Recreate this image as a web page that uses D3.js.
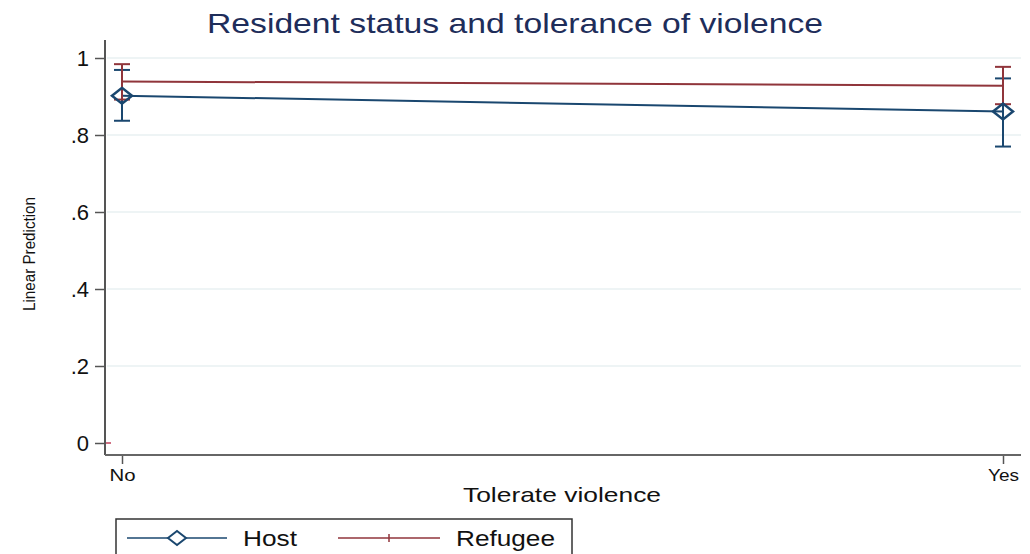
<!DOCTYPE html>
<html><head><meta charset="utf-8">
<script src="https://cdn.jsdelivr.net/npm/d3@7"></script>
<style>body{margin:0;background:#fff}svg{display:block;font-family:"Liberation Sans",Arial,sans-serif}</style>
</head><body><svg id="c" width="1030" height="554"></svg>
<script>
const categories = ["No", "Yes"];
const seriesNames = ["Host", "Refugee"];
const hostMean = [0.902, 0.861];
const hostLo = [0.837, 0.770];
const hostHi = [0.969, 0.947];
const refMean = [0.939, 0.928];
const refLo = [0.892, 0.880];
const refHi = [0.984, 0.977];
const yTicks = [0, 0.2, 0.4, 0.6, 0.8, 1];
const yTickLabels = ["0", ".2", ".4", ".6", ".8", "1"];

const svg = d3.select("#c");
const colors = {Host: "#1a476f", Refugee: "#90353b"};
const x = d3.scalePoint().domain(categories).range([122, 1003]);
const y = d3.scaleLinear().domain([0, 1]).range([443, 58]);
const plotL = 105, plotR = 1021, plotB = 455;

// gridlines
svg.append("g").selectAll("line").data(yTicks.filter(d => d > 0)).join("line")
  .attr("x1", plotL + 2).attr("x2", plotR).attr("y1", d => y(d)).attr("y2", d => y(d))
  .attr("stroke", "#e8f1f2").attr("stroke-width", 1.5);

// y axis
const ya = svg.append("g").attr("transform", `translate(${plotL},0)`)
  .call(d3.axisLeft(y).tickValues(yTicks).tickFormat((d, i) => yTickLabels[i]).tickSize(10).tickPadding(6).tickSizeOuter(0));
ya.select(".domain").remove();
ya.selectAll("line").attr("stroke", "#555").attr("stroke-width", 1.5);
ya.selectAll("text").attr("font-size", 22).attr("fill", "#111").attr("font-family", "Liberation Sans, Arial, sans-serif");
svg.append("line").attr("x1", plotL).attr("x2", plotL).attr("y1", 40).attr("y2", plotB).attr("stroke", "#555").attr("stroke-width", 2);

// x axis
const xa = svg.append("g").attr("transform", `translate(0,${plotB})`)
  .call(d3.axisBottom(x).tickSize(9).tickPadding(6).tickSizeOuter(0));
xa.select(".domain").remove();
xa.selectAll("line").attr("stroke", "#555").attr("stroke-width", 1.5);
xa.selectAll("text").attr("font-size", 16).attr("fill", "#111").attr("font-family", "Liberation Sans, Arial, sans-serif")
  .attr("textLength", d => d === "No" ? 26 : 31).attr("lengthAdjust", "spacingAndGlyphs");
svg.append("line").attr("x1", plotL).attr("x2", plotR).attr("y1", plotB).attr("y2", plotB).attr("stroke", "#666").attr("stroke-width", 2);

// small red mark at 0
svg.append("line").attr("x1", plotL + 1).attr("x2", plotL + 6).attr("y1", y(0)).attr("y2", y(0)).attr("stroke", "#c0405a").attr("stroke-width", 1.5);

// titles
svg.append("text").attr("x", 515).attr("y", 33).attr("text-anchor", "middle")
  .attr("font-size", 28).attr("fill", "#1e2d5a")
  .attr("textLength", 616).attr("lengthAdjust", "spacingAndGlyphs")
  .text("Resident status and tolerance of violence");
svg.append("text").attr("x", 562).attr("y", 502).attr("text-anchor", "middle")
  .attr("font-size", 21).attr("fill", "#111")
  .attr("textLength", 198).attr("lengthAdjust", "spacingAndGlyphs").text("Tolerate violence");
svg.append("text").attr("transform", "translate(35,254) rotate(-90)").attr("text-anchor", "middle")
  .attr("font-size", 16).attr("fill", "#111")
  .attr("textLength", 114).attr("lengthAdjust", "spacingAndGlyphs").text("Linear Prediction");

const series = [
  {name: "Host", mean: hostMean, lo: hostLo, hi: hostHi},
  {name: "Refugee", mean: refMean, lo: refLo, hi: refHi}
];
const line = d3.line().x((d, i) => x(categories[i])).y(d => y(d));

// lines
series.forEach(s => {
  svg.append("path").attr("d", line(s.mean)).attr("fill", "none").attr("stroke", colors[s.name]).attr("stroke-width", 2);
});
// error bars: host first then refugee on top
series.forEach(s => {
  const g = svg.append("g").attr("stroke", colors[s.name]).attr("stroke-width", 2);
  categories.forEach((c, i) => {
    g.append("line").attr("x1", x(c)).attr("x2", x(c)).attr("y1", y(s.lo[i])).attr("y2", y(s.hi[i]));
    [s.lo[i], s.hi[i]].forEach(v => g.append("line").attr("x1", x(c) - 8).attr("x2", x(c) + 8).attr("y1", y(v)).attr("y2", y(v)));
  });
});
// markers
categories.forEach((c, i) => {
  const cx = x(c), cy = y(hostMean[i]);
  svg.append("path").attr("d", `M${cx - 10},${cy}L${cx},${cy - 8}L${cx + 10},${cy}L${cx},${cy + 8}Z`)
    .attr("fill", "none").attr("stroke", colors.Host).attr("stroke-width", 2.5);
  const ry = y(refMean[i]);
  svg.append("line").attr("x1", cx).attr("x2", cx).attr("y1", ry - 5).attr("y2", ry + 5).attr("stroke", colors.Refugee).attr("stroke-width", 2);
});

// legend
const lg = svg.append("g");
lg.append("rect").attr("x", 116).attr("y", 519).attr("width", 456).attr("height", 45)
  .attr("fill", "#fff").attr("stroke", "#333").attr("stroke-width", 1.5);
const legItems = [
  {name: seriesNames[0], x1: 127, x2: 227, tx: 243, w: 54},
  {name: seriesNames[1], x1: 338, x2: 440, tx: 456, w: 99}
];
legItems.forEach(it => {
  const ly = 538;
  lg.append("line").attr("x1", it.x1).attr("x2", it.x2).attr("y1", ly).attr("y2", ly).attr("stroke", colors[it.name]).attr("stroke-width", 1.5);
  const mx = (it.x1 + it.x2) / 2;
  if (it.name === "Host") {
    lg.append("path").attr("d", `M${mx - 9},${ly}L${mx},${ly - 7}L${mx + 9},${ly}L${mx},${ly + 7}Z`).attr("fill", "#fff").attr("stroke", colors.Host).attr("stroke-width", 2);
  } else {
    lg.append("line").attr("x1", mx).attr("x2", mx).attr("y1", ly - 4).attr("y2", ly + 4).attr("stroke", colors.Refugee).attr("stroke-width", 1.5);
  }
  lg.append("text").attr("x", it.tx).attr("y", ly + 8).attr("font-size", 22).attr("fill", "#111")
    .attr("textLength", it.w).attr("lengthAdjust", "spacingAndGlyphs").text(it.name);
});
</script></body></html>
